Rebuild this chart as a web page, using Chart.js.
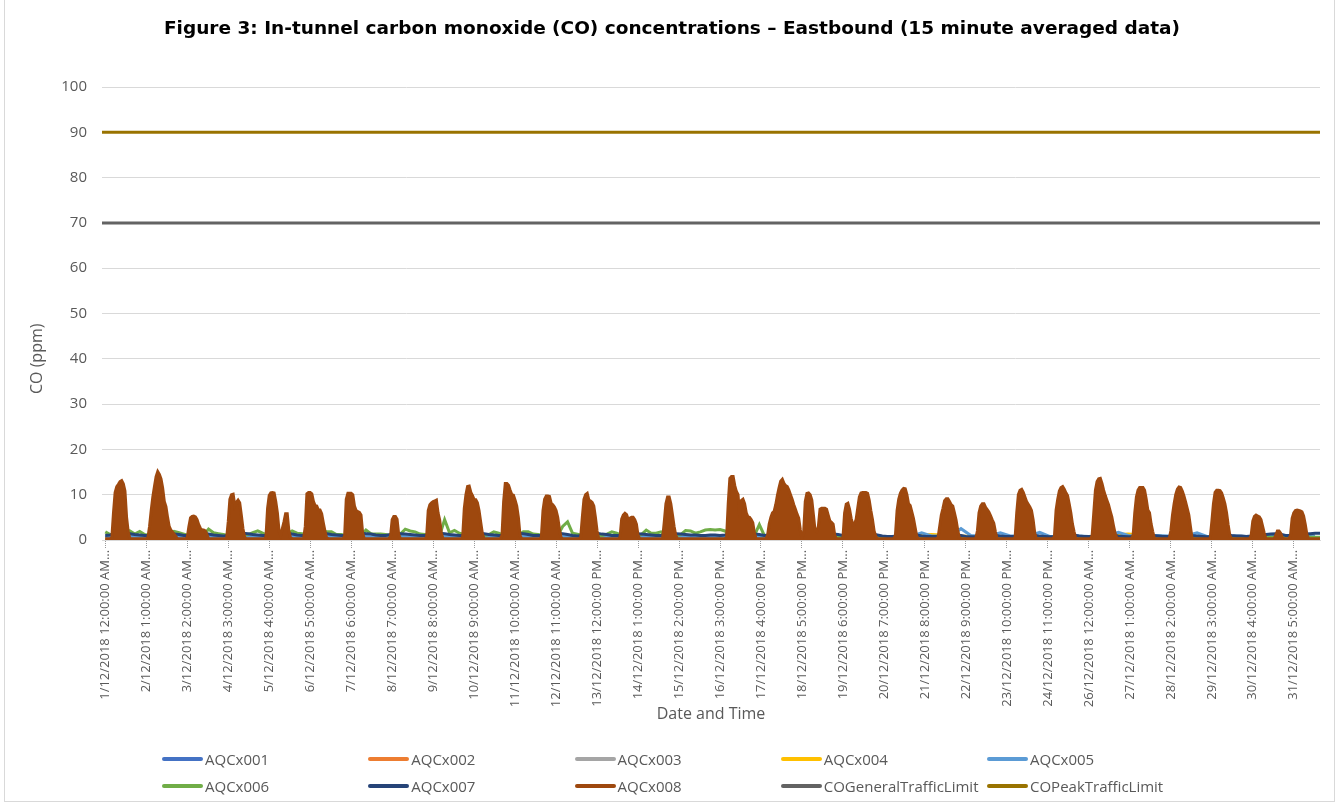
<!DOCTYPE html>
<html>
<head>
<meta charset="utf-8">
<title>Figure 3: In-tunnel carbon monoxide (CO) concentrations</title>
<script src="https://cdn.jsdelivr.net/npm/chart.js@4.4.1/dist/chart.umd.min.js"></script>
<style>
  body { margin: 0; background: #fff; font-family: "Open Sans", sans-serif; }
  #wrap { position: relative; width: 1343px; height: 805px; overflow: hidden; }
  #frame { position: absolute; left: 4px; top: -2px; width: 1331px; height: 804px; border: 1px solid #d9d9d9; box-sizing: border-box; }
  #legend { position: absolute; left: 162px; top: 745px; display: grid; grid-template-columns: repeat(5, 206.25px); }
  .item { display: flex; align-items: center; height: 27px; font-size: 15px; color: #595959; white-space: nowrap; }
  .swatch { width: 41px; height: 4px; border-radius: 2px; margin-right: 2px; }
</style>
</head>
<body>
<div id="wrap">
  <canvas id="coChart" width="1343" height="805"></canvas>
  <div id="frame"></div>
  <div id="legend"></div>
</div>
<script>
// x tick labels, one every 25 hours (Excel category axis, 100 samples apart)
const xTickLabels = [
    '1/12/2018 12:00:00 AM…', '2/12/2018 1:00:00 AM…', '3/12/2018 2:00:00 AM…', '4/12/2018 3:00:00 AM…',
    '5/12/2018 4:00:00 AM…', '6/12/2018 5:00:00 AM…', '7/12/2018 6:00:00 AM…', '8/12/2018 7:00:00 AM…',
    '9/12/2018 8:00:00 AM…', '10/12/2018 9:00:00 AM…', '11/12/2018 10:00:00 AM…', '12/12/2018 11:00:00 AM…',
    '13/12/2018 12:00:00 PM…', '14/12/2018 1:00:00 PM…', '15/12/2018 2:00:00 PM…', '16/12/2018 3:00:00 PM…',
    '17/12/2018 4:00:00 PM…', '18/12/2018 5:00:00 PM…', '19/12/2018 6:00:00 PM…', '20/12/2018 7:00:00 PM…',
    '21/12/2018 8:00:00 PM…', '22/12/2018 9:00:00 PM…', '23/12/2018 10:00:00 PM…', '24/12/2018 11:00:00 PM…',
    '26/12/2018 12:00:00 AM…', '27/12/2018 1:00:00 AM…', '28/12/2018 2:00:00 AM…', '29/12/2018 3:00:00 AM…',
    '30/12/2018 4:00:00 AM…', '31/12/2018 5:00:00 AM…'
];
const tickStepHours = 25;
const yAxisTitle = 'CO (ppm)';

const seriesNames = ['AQCx001', 'AQCx002', 'AQCx003', 'AQCx004', 'AQCx005', 'AQCx006', 'AQCx007', 'AQCx008',
    'COGeneralTrafficLimit', 'COPeakTrafficLimit'];
const seriesColors = ['#4472C4', '#ED7D31', '#A5A5A5', '#FFC000', '#5B9BD5', '#70AD47', '#264478', '#9E480E',
    '#636363', '#997300'];

const generalTrafficLimit = 70;
const peakTrafficLimit = 90;

// AQCx008, hourly readings (ppm), one row per day
const aqcx008 = [
    0.3,0.3,0.3,0.3,0.5,6,10.5,11.8,12.3,12.9,13.1,12.4,10.8,5,1.8,0.3,0.3,0.3,0.3,0.3,0.3,0.3,0.3,0.3,
    0.3,0.3,0.5,3,6.5,9.5,11.8,14,15.1,14.5,13.5,11.5,8.5,7.4,5,3,2.2,1.8,1.3,0.8,0.3,0.3,0.3,0.3,
    0.3,0.3,0.5,3,4.9,5.2,5.3,5.1,4.5,3.4,2.6,2.2,2.2,2,1.2,0.3,0.3,0.3,0.3,0.3,0.3,0.3,0.3,0.3,
    0.3,0.3,0.3,4,9,10,10.1,7.6,8.3,8.8,8.2,5.5,2.5,0.6,0.3,0.3,0.3,0.3,0.3,0.3,0.3,0.3,0.3,0.3,
    0.3,0.3,0.6,7,9.8,10.4,10.5,10.4,8.5,6,2,1,2.5,4,5.8,5.8,2,0.5,0.3,0.3,0.3,0.3,0.3,0.3,
    0.3,0.3,3,10.2,10.5,10.5,10.2,8.5,7.6,7.5,6.6,6.6,5.8,3.8,2,0.5,0.3,0.3,0.3,0.3,0.3,0.3,0.3,0.3,
    0.3,0.3,0.8,9,10.3,10.3,10.3,10,7.5,6.5,6.3,6.1,5.5,1.5,0.3,0.3,0.3,0.3,0.3,0.3,0.3,0.3,0.3,0.3,
    0.3,0.3,0.3,0.3,0.3,0.3,0.8,4.5,5.2,5.2,4.6,1.2,0.3,0.3,0.3,0.3,0.3,0.3,0.3,0.3,0.3,0.3,0.3,0.3,
    0.3,0.3,0.3,0.3,0.6,6.5,7.8,8.2,8.5,8.6,8.8,6,4.4,1.5,0.3,0.3,0.3,0.3,0.3,0.3,0.3,0.3,0.3,0.3,
    0.3,0.3,0.6,7,10,11.8,11.9,10.5,9.8,8.9,8.9,8.2,6.5,4,1.5,0.3,0.3,0.3,0.3,0.3,0.3,0.3,0.3,0.3,
    0.3,0.3,1,8.5,12.5,12.5,12.1,11,10,9.9,8.8,7.5,5,1,0.3,0.3,0.3,0.3,0.3,0.3,0.3,0.3,0.3,0.3,
    0.3,0.3,0.6,6.5,9,9.7,9.7,9.6,8.1,7.8,7.3,6.5,5,2.5,0.6,0.3,0.3,0.3,0.3,0.3,0.3,0.3,0.3,0.3,
    0.3,0.3,0.5,5,9,10,10.3,8.8,8.6,8.3,7.5,5,2,0.3,0.3,0.3,0.3,0.3,0.3,0.3,0.3,0.3,0.3,0.3,
    0.3,0.3,0.6,4.6,5.5,5.9,5.6,4.5,4.8,5,5,4.5,3.5,1,0.3,0.3,0.3,0.3,0.3,0.3,0.3,0.3,0.3,0.3,
    0.3,0.3,0.3,0.3,0.4,4,8,9.5,9.5,8,5.5,3,1,0.3,0.3,0.3,0.3,0.3,0.3,0.3,0.3,0.3,0.3,0.3,
    0.3,0.3,0.3,0.3,0.3,0.3,0.3,0.3,0.3,0.3,0.3,0.3,0.3,0.3,0.3,0.3,0.3,0.3,0.3,0.5,8,13.6,14,14,
    12,10.7,10,5,8.7,9,8,6,5.1,5,4.5,3.8,1.5,0.3,0.3,0.3,0.3,0.3,0.3,0.3,1,3.5,5,6,
    6.3,7.8,9.8,11.5,13,13.4,12.5,12,11.8,11,10,9,7.8,6.8,5.7,4.8,2.2,0.5,1.5,8.5,10.3,10.4,10,8.8,
    5.5,2,1.8,3,6.8,7,7,7,6.8,5.5,4.2,3.9,3.5,1,0.3,0.3,0.3,0.3,0.5,6,7.9,8.1,6.8,4.8,
    3.4,3.5,4.5,7,9.5,10.4,10.5,10.5,10.5,10.3,8.8,6.5,4.5,2,0.8,0.3,0.3,0.3,0.3,0.3,0.3,0.3,0.3,0.3,
    0.3,0.3,1,6.5,9,10.3,11,11.4,11.3,10,8,7.6,6.2,4.8,2.8,0.8,0.3,0.3,0.3,0.3,0.3,0.3,0.3,0.3,
    0.3,0.3,0.3,0.3,0.5,3,5.5,7,8.7,9.1,9.1,8.5,7.8,7.5,6,4.4,2.2,0.5,0.3,0.3,0.3,0.3,0.3,0.3,
    0.3,0.3,0.3,0.3,2,6,7.5,8,8,7.2,6.7,6.2,5.4,4.5,3.7,1.8,0.3,0.3,0.3,0.3,0.3,0.3,0.3,0.3,
    0.3,0.3,0.3,0.5,6,10,11,11.2,10.5,9.5,8.5,7.9,7.3,6.5,4.5,1.5,0.3,0.3,0.3,0.3,0.3,0.3,0.3,0.3,
    0.3,0.3,0.3,0.8,6.6,9,10.8,11.6,11.8,11.2,10.4,9.8,8,6,3.5,1.8,0.3,0.3,0.3,0.3,0.3,0.3,0.3,0.3,
    0.3,0.3,1,6,11,12.9,13.5,13.6,12.5,11,9.8,8.8,7.8,6.4,5.1,3.2,1.5,0.5,0.3,0.3,0.3,0.3,0.3,0.3,
    0.3,0.3,0.3,1,6,9.5,11,11.6,11.6,11.6,11,9,6.6,6,3.5,1.8,0.3,0.3,0.3,0.3,0.3,0.3,0.3,0.3,
    0.3,0.3,2,5.5,8,10,11.2,11.7,11.6,10.8,9.7,8.4,7,5.5,2.9,0.3,0.3,0.3,0.3,0.3,0.3,0.3,0.3,0.3,
    0.3,0.3,0.3,4,8,10.5,11,11,10.9,10.4,9.3,8,6,3.3,1,0.3,0.3,0.3,0.3,0.3,0.3,0.3,0.3,0.3,
    0.3,0.3,0.3,1,4.2,5.2,5.5,5.3,5.1,4.5,3,1.5,0.3,0.3,0.3,0.3,0.3,0.3,1,2,2,1.5,0.5,0.3,
    0.3,0.3,0.3,1,4.8,6,6.5,6.6,6.5,6.4,6.2,5.3,3.5,1.2,0.3,0.3,0.3,0.3,0.3,0.3,0.3,0.3,0.3,0.3
];

// AQCx007 and AQCx006, every 3 hours
const aqcx007 = [
    1.0,1.1,1.4,1.5,1.5,1.4,1.2,1.1,  1.0,1.0,1.3,1.5,1.5,1.4,1.3,1.2,  1.0,1.0,1.2,1.4,1.4,1.3,1.1,1.0,
    0.9,1.0,1.3,1.5,1.5,1.4,1.2,1.1,  1.0,1.0,1.4,1.6,1.5,1.4,1.3,1.1,  1.0,1.0,1.3,1.5,1.5,1.4,1.2,1.1,
    1.0,1.0,1.4,1.5,1.5,1.4,1.3,1.1,  1.0,1.0,1.2,1.4,1.4,1.3,1.2,1.1,  1.0,1.0,1.3,1.5,1.5,1.4,1.2,1.1,
    1.0,1.0,1.4,1.6,1.5,1.4,1.2,1.1,  1.0,1.0,1.4,1.6,1.5,1.4,1.2,1.0,  1.0,1.0,1.3,1.5,1.5,1.4,1.2,1.0,
    0.9,1.0,1.3,1.5,1.5,1.3,1.2,1.0,  1.0,1.0,1.2,1.4,1.4,1.3,1.2,1.1,  1.0,1.0,1.2,1.4,1.4,1.3,1.2,1.1,
    1.1,1.0,1.0,1.1,1.1,1.0,1.1,1.3,  1.6,1.5,1.4,1.2,1.3,1.2,1.0,1.1,  1.3,1.5,1.6,1.5,1.4,1.3,1.3,1.4,
    1.4,1.3,1.3,1.3,1.3,1.2,1.0,1.2,  1.3,1.4,1.5,1.4,1.3,1.1,0.9,0.8,  0.8,0.9,1.2,1.3,1.3,1.1,0.9,0.8,
    0.8,0.8,1.0,1.2,1.2,1.1,1.0,0.8,  0.7,0.8,1.0,1.2,1.1,1.0,0.9,0.8,  0.8,0.8,1.1,1.3,1.2,1.0,0.9,0.8,
    0.7,0.8,1.1,1.3,1.2,1.1,0.9,0.8,  0.8,0.8,1.2,1.4,1.3,1.1,0.9,0.8,  0.7,0.8,1.1,1.3,1.2,1.0,0.9,0.8,
    0.8,0.8,1.1,1.3,1.2,1.0,0.9,0.8,  0.7,0.8,1.1,1.3,1.2,1.0,0.9,0.9,  0.8,0.9,1.1,1.2,1.2,1.3,1.4,1.3,
    1.0,1.0,1.2,1.3,1.3,1.4,1.5,1.5
];
const aqcx006 = [
    1.8,1.2,1.0,1.0,0.9,2.0,1.3,1.9,  1.2,1.0,1.0,1.0,1.0,1.4,1.9,1.6,  1.3,1.0,1.0,1.2,1.0,2.4,1.6,1.4,
    1.2,1.0,1.0,1.0,1.0,1.2,1.6,2.0,  1.5,1.0,1.0,1.0,1.0,1.3,2.0,1.5,  1.4,1.0,1.0,1.0,1.0,1.8,1.8,1.2,
    1.2,1.0,1.0,1.0,1.0,2.2,1.4,1.3,  1.3,1.2,1.0,1.0,1.3,2.4,2.0,1.8,  1.3,1.2,1.0,1.0,1.0,4.5,1.6,2.1,
    1.5,1.2,1.0,1.0,1.0,1.0,1.2,1.8,  1.5,1.0,1.0,1.0,1.0,1.8,1.8,1.3,  1.2,1.0,1.0,1.0,1.0,3.0,4.0,1.5,
    1.3,1.0,1.0,1.0,1.0,1.0,1.3,1.8,  1.5,1.0,1.0,1.0,1.0,1.2,2.2,1.5,  1.5,1.8,1.0,1.0,1.0,1.2,2.1,2.0,
    1.5,1.8,2.2,2.3,2.2,2.3,2.0,1.0,  1.0,1.0,1.0,1.0,1.0,3.4,1.0,0.9,  0.8,0.7,0.7,0.7,0.7,0.7,0.7,0.7,
    0.7,0.7,0.7,0.7,0.7,0.6,0.6,0.6,  0.6,0.6,0.7,0.7,0.7,0.6,0.6,0.6,  0.6,0.6,0.7,0.7,0.7,0.6,0.6,0.6,
    0.6,0.6,0.7,0.7,0.7,0.6,0.6,0.6,  0.6,0.6,0.7,0.7,0.7,0.6,0.6,0.6,  0.6,0.6,0.7,0.7,0.7,0.6,0.6,0.6,
    0.6,0.6,0.7,0.7,0.7,0.6,0.6,0.6,  0.6,0.6,0.7,0.7,0.7,0.6,0.6,0.6,  0.6,0.6,0.7,0.7,0.7,0.6,0.6,0.6,
    0.6,0.6,0.7,0.7,0.7,0.6,0.6,0.6,  0.6,0.6,0.7,0.7,0.7,0.6,0.6,0.6,  0.6,0.6,0.7,0.7,0.7,0.6,0.6,0.6,
    0.6,0.6,0.7,0.7,0.7,0.6,0.6,0.6
];

// AQCx005, every 6 hours
const aqcx005 = [
    0.7,0.8,0.8,0.7,  0.7,0.8,0.8,0.7,  0.7,0.7,0.8,0.7,  0.7,0.8,0.8,0.7,  0.7,0.8,0.8,0.7,  0.7,0.8,0.8,0.7,
    0.7,0.8,0.8,0.7,  0.7,0.7,0.8,0.7,  0.7,0.8,0.8,0.7,  0.7,0.8,0.8,0.7,  0.7,0.8,0.8,0.7,  0.7,0.8,0.8,0.7,
    0.7,0.7,0.8,0.7,  0.7,0.8,0.8,0.7,  0.7,0.8,0.8,0.7,  0.7,0.8,0.8,0.7,  0.7,0.8,0.8,0.7,  0.7,0.8,0.8,0.7,
    0.7,0.8,0.8,0.7,  0.7,0.8,0.8,0.7,  0.7,0.8,0.9,1.6,  0.9,0.9,1.0,2.5,  1.0,0.9,1.0,1.6,  0.9,0.9,1.0,1.7,
    0.8,0.8,0.9,0.9,  0.8,0.9,1.0,1.7,  1.0,0.9,1.0,1.0,  0.9,0.9,1.0,1.6,  0.8,0.8,0.9,0.9,  0.8,0.8,0.9,0.9,
    0.8,0.8,0.9,0.9
];

// AQCx001 to AQCx004, daily
const aqcx001 = [0.6,0.6,0.5,0.6,0.6,0.6,0.5,0.6,0.6,0.6,0.6,0.5,0.6,0.6,0.6,0.6,0.6,0.6,0.5,0.6,0.6,0.6,0.6,0.6,0.6,0.6,0.6,0.6,0.5,0.6,0.6];
const aqcx002 = [0.5,0.6,0.5,0.5,0.6,0.5,0.5,0.5,0.6,0.5,0.5,0.5,0.5,0.6,0.5,0.5,0.5,0.5,0.5,0.5,0.5,0.5,0.5,0.5,0.5,0.5,0.5,0.5,0.5,0.5,0.5];
const aqcx003 = [0.4,0.4,0.4,0.4,0.4,0.4,0.4,0.4,0.4,0.4,0.4,0.4,0.4,0.4,0.4,0.4,0.4,0.4,0.4,0.4,0.4,0.4,0.4,0.4,0.4,0.4,0.4,0.4,0.4,0.4,0.4];
const aqcx004 = [0.5,0.5,0.5,0.5,0.5,0.5,0.5,0.5,0.5,0.5,0.5,0.5,0.5,0.5,0.5,0.5,0.5,0.5,0.5,0.5,0.6,1.2,0.8,0.7,0.7,0.8,1.3,0.7,0.6,0.6,0.6];

const xMin = -2;
const xMax = 741;

const toPoints = (values, stepHours) => values.map((v, i) => ({ x: i * stepHours, y: v }));

const seriesData = [
    toPoints(aqcx001, 24), toPoints(aqcx002, 24), toPoints(aqcx003, 24), toPoints(aqcx004, 24),
    toPoints(aqcx005, 6), toPoints(aqcx006, 3), toPoints(aqcx007, 3), toPoints(aqcx008, 1),
    [{ x: xMin, y: generalTrafficLimit }, { x: xMax, y: generalTrafficLimit }],
    [{ x: xMin, y: peakTrafficLimit }, { x: xMax, y: peakTrafficLimit }]
];

const datasets = seriesNames.map((name, i) => ({
    label: name,
    data: seriesData[i],
    borderColor: seriesColors[i],
    backgroundColor: seriesColors[i],
    borderWidth: 3,
    pointRadius: 0,
    tension: 0,
    fill: name === 'AQCx008' ? 'origin' : false,
    order: seriesNames.length - i // later series drawn on top, like Excel
}));

// Excel puts the value axis title a bit below the middle of the plot
const yTitlePlugin = {
    id: 'yTitle',
    afterDraw(chart) {
        const { ctx, chartArea } = chart;
        ctx.save();
        ctx.translate(37, chartArea.top + (chartArea.bottom - chartArea.top) * 0.6);
        ctx.rotate(-Math.PI / 2);
        ctx.font = '16px "Open Sans", sans-serif';
        ctx.fillStyle = '#595959';
        ctx.textAlign = 'center';
        ctx.textBaseline = 'middle';
        ctx.fillText(yAxisTitle, 0, 0);
        ctx.restore();
    }
};

new Chart(document.getElementById('coChart').getContext('2d'), {
    type: 'line',
    data: { datasets: datasets },
    plugins: [yTitlePlugin],
    options: {
        responsive: false,
        animation: false,
        layout: { padding: { left: 24, right: 23, top: 0, bottom: 75 } },
        plugins: {
            legend: { display: false },
            tooltip: { enabled: false },
            title: {
                display: true,
                text: 'Figure 3: In-tunnel carbon monoxide (CO) concentrations \u2013 Eastbound (15 minute averaged data)',
                color: '#000',
                font: { family: '"DejaVu Sans", sans-serif', size: 18.5, weight: 'bold' },
                padding: { top: 18, bottom: 46.8 }
            }
        },
        scales: {
            x: {
                type: 'linear',
                min: xMin,
                max: xMax,
                afterBuildTicks: (scale) => {
                    scale.ticks = xTickLabels.map((l, i) => ({ value: i * tickStepHours }));
                },
                afterFit: (scale) => { scale.height = 190; },
                ticks: {
                    autoSkip: false,
                    maxRotation: 90,
                    minRotation: 90,
                    padding: 2,
                    color: '#595959',
                    font: { family: '"Open Sans", sans-serif', size: 13 },
                    callback: (value, index) => xTickLabels[index]
                },
                grid: {
                    drawOnChartArea: false,
                    drawTicks: true,
                    tickLength: 8,
                    tickColor: '#9a9a9a',
                    tickBorderDash: [1, 1],
                    tickWidth: 1
                },
                border: { display: true, color: '#d9d9d9' },
                title: {
                    display: true,
                    text: 'Date and Time',
                    color: '#595959',
                    font: { family: '"Open Sans", sans-serif', size: 16 },
                    padding: { top: 4, bottom: 6 }
                }
            },
            y: {
                min: 0,
                max: 100,
                afterFit: (scale) => { scale.width = 78; },
                ticks: {
                    stepSize: 10,
                    padding: 15,
                    color: '#595959',
                    font: { family: '"Open Sans", sans-serif', size: 15 }
                },
                grid: { color: '#d9d9d9', drawTicks: false },
                border: { display: false }
            }
        }
    }
});

// legend laid out in five columns like the Excel chart
const legendDiv = document.getElementById('legend');
seriesNames.forEach((name, i) => {
    legendDiv.innerHTML += `<div class="item"><span class="swatch" style="background:${seriesColors[i]}"></span>${name}</div>`;
});
</script>
</body>
</html>
